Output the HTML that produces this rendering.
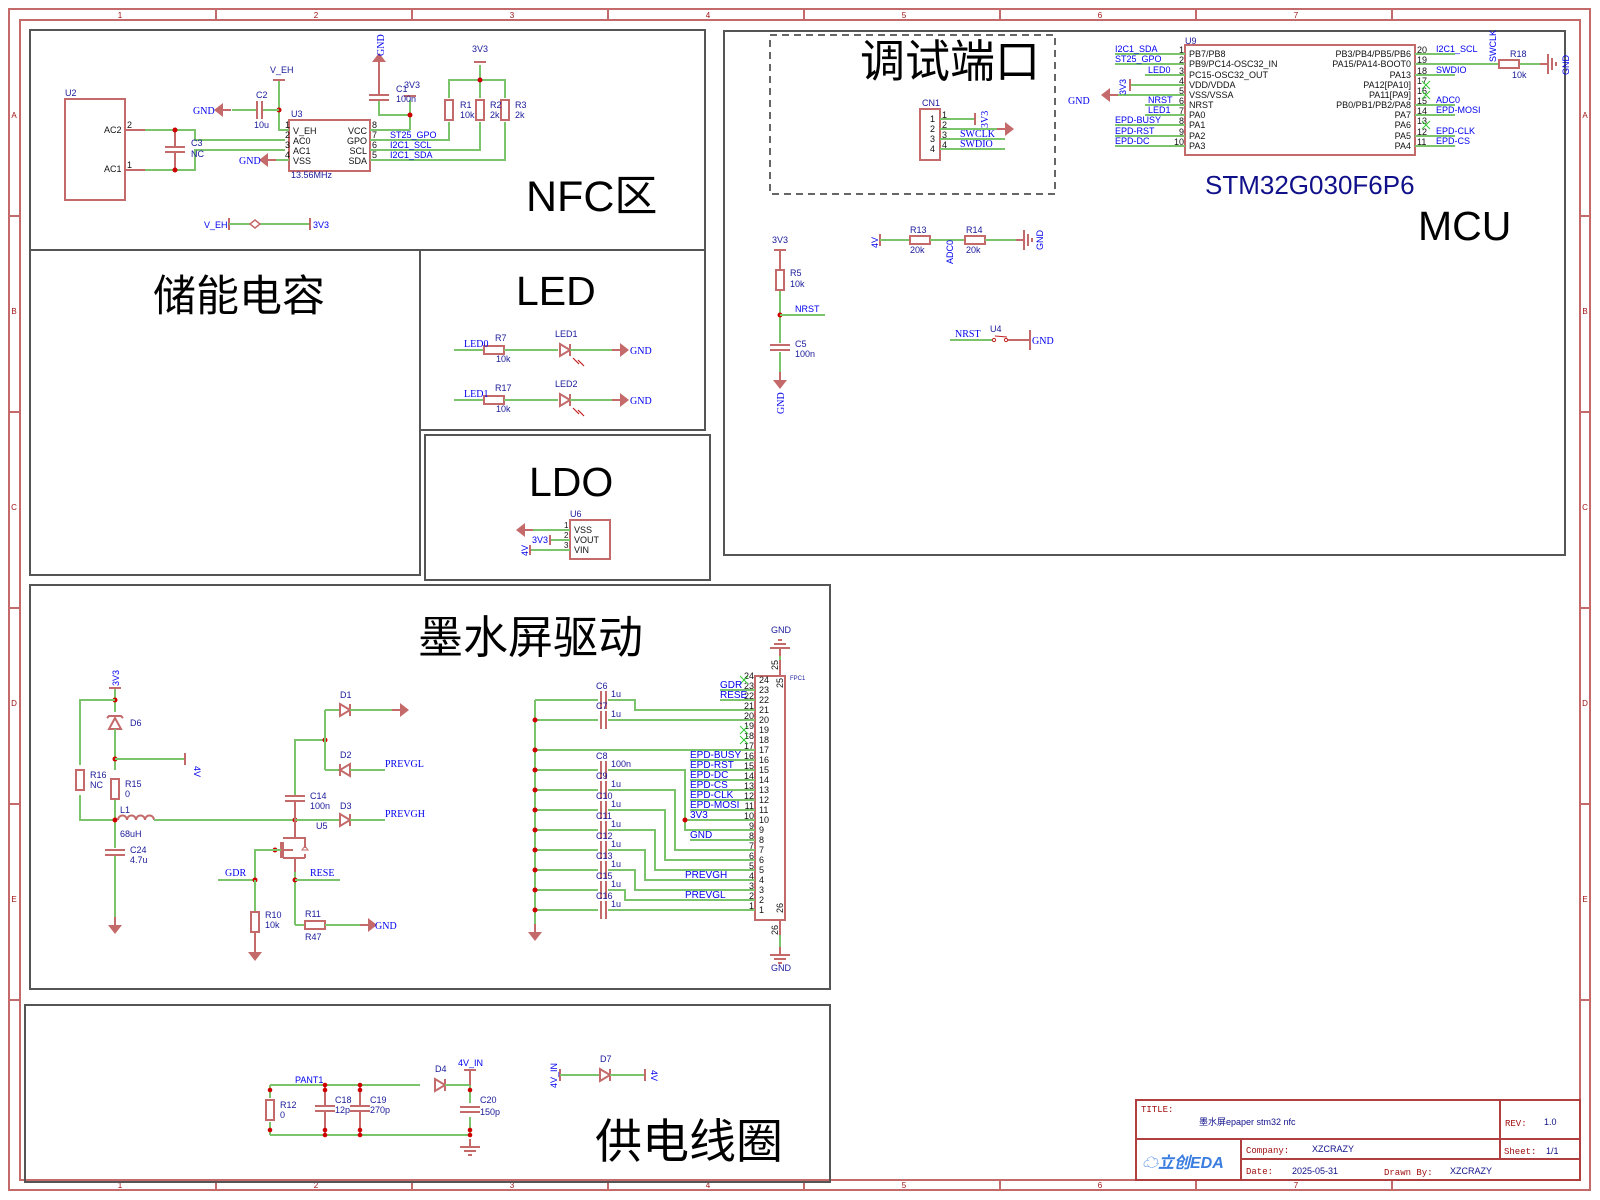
<!DOCTYPE html>
<html><head><meta charset="utf-8"><style>
html,body{margin:0;padding:0;background:#fff}
svg{display:block}
text{font-family:"Liberation Sans","Noto Sans CJK SC",sans-serif}
.c{stroke:#c46a6a;fill:none;stroke-width:2}
.cf{fill:#c46a6a;stroke:none}
.w{stroke:#7cc46c;fill:none;stroke-width:2}
.p{stroke:#555;fill:none;stroke-width:2}
.t{font-size:9px;fill:#1a1a9a}
.k{font-size:9px;fill:#111}
.n{font-size:10px;fill:#0000ee;font-family:"Liberation Serif",serif}
.ns{font-size:9px;fill:#0000ee}
.f{font-size:8px;fill:#a01010;text-anchor:middle}
.ti{fill:#000}
.d{fill:#d00000}
</style></head><body>
<svg width="1600" height="1200" viewBox="0 0 1600 1200" xmlns="http://www.w3.org/2000/svg">
<defs>
<g id="gr"><line x1="-8" y1="0" x2="0" y2="0" class="c"/><polygon points="0,-7 9,0 0,7" class="cf"/></g>
<g id="gl"><line x1="0" y1="0" x2="8" y2="0" class="c"/><polygon points="0,-7 -9,0 0,7" class="cf"/></g>
<g id="gd"><line x1="0" y1="-8" x2="0" y2="0" class="c"/><polygon points="-7,0 0,9 7,0" class="cf"/></g>
<g id="gu"><line x1="0" y1="0" x2="0" y2="8" class="c"/><polygon points="-7,0 0,-9 7,0" class="cf"/></g>
<g id="eg"><line x1="0" y1="-8" x2="0" y2="0" class="c"/><line x1="-10" y1="0" x2="10" y2="0" class="c"/><line x1="-6" y1="4" x2="6" y2="4" class="c"/><line x1="-2" y1="8" x2="2" y2="8" class="c"/></g>
<g id="egr"><line x1="-8" y1="0" x2="0" y2="0" class="c"/><line x1="0" y1="-10" x2="0" y2="10" class="c"/><line x1="4" y1="-6" x2="4" y2="6" class="c"/><line x1="8" y1="-2" x2="8" y2="2" class="c"/></g>
<g id="rv"><rect x="-4" y="-10" width="8" height="20" class="c"/></g>
<g id="rh"><rect x="-10" y="-4" width="20" height="8" class="c"/></g>
<g id="cv"><line x1="-10" y1="-2" x2="10" y2="-2" class="c"/><line x1="-10" y1="3" x2="10" y2="3" class="c"/></g>
<g id="ch"><line x1="-2" y1="-9" x2="-2" y2="9" class="c"/><line x1="3" y1="-9" x2="3" y2="9" class="c"/></g>
<g id="dr"><polygon points="-5,-6 5,0 -5,6" class="c"/><line x1="5" y1="-6" x2="5" y2="6" class="c"/></g>
<g id="dl"><polygon points="5,-6 -5,0 5,6" class="c"/><line x1="-5" y1="-6" x2="-5" y2="6" class="c"/></g>
<g id="x"><line x1="-4" y1="-4" x2="4" y2="4" stroke="#3c3" stroke-width="1"/><line x1="-4" y1="4" x2="4" y2="-4" stroke="#3c3" stroke-width="1"/></g>
</defs>

<rect x="9" y="9" width="1581" height="1181" fill="none" stroke="#c46a6a" stroke-width="2"/>
<rect x="20" y="20" width="1560" height="1160" fill="none" stroke="#c46a6a" stroke-width="2"/>
<g stroke="#c46a6a" stroke-width="2">
<line x1="216" y1="9" x2="216" y2="20"/><line x1="412" y1="9" x2="412" y2="20"/><line x1="608" y1="9" x2="608" y2="20"/><line x1="804" y1="9" x2="804" y2="20"/><line x1="1000" y1="9" x2="1000" y2="20"/><line x1="1196" y1="9" x2="1196" y2="20"/><line x1="1392" y1="9" x2="1392" y2="20"/>
<line x1="216" y1="1180" x2="216" y2="1190"/><line x1="412" y1="1180" x2="412" y2="1190"/><line x1="608" y1="1180" x2="608" y2="1190"/><line x1="804" y1="1180" x2="804" y2="1190"/><line x1="1000" y1="1180" x2="1000" y2="1190"/><line x1="1196" y1="1180" x2="1196" y2="1190"/><line x1="1392" y1="1180" x2="1392" y2="1190"/>
<line x1="9" y1="216" x2="20" y2="216"/><line x1="9" y1="412" x2="20" y2="412"/><line x1="9" y1="608" x2="20" y2="608"/><line x1="9" y1="804" x2="20" y2="804"/><line x1="9" y1="1000" x2="20" y2="1000"/>
<line x1="1580" y1="216" x2="1590" y2="216"/><line x1="1580" y1="412" x2="1590" y2="412"/><line x1="1580" y1="608" x2="1590" y2="608"/><line x1="1580" y1="804" x2="1590" y2="804"/><line x1="1580" y1="1000" x2="1590" y2="1000"/>
</g>
<g class="f" style="font-family:'Liberation Serif',serif">
<text x="120" y="18" class="f">1</text><text x="316" y="18" class="f">2</text><text x="512" y="18" class="f">3</text><text x="708" y="18" class="f">4</text><text x="904" y="18" class="f">5</text><text x="1100" y="18" class="f">6</text><text x="1296" y="18" class="f">7</text>
<text x="120" y="1188" class="f">1</text><text x="316" y="1188" class="f">2</text><text x="512" y="1188" class="f">3</text><text x="708" y="1188" class="f">4</text><text x="904" y="1188" class="f">5</text><text x="1100" y="1188" class="f">6</text><text x="1296" y="1188" class="f">7</text>
<text x="14" y="118" class="f">A</text><text x="14" y="314" class="f">B</text><text x="14" y="510" class="f">C</text><text x="14" y="706" class="f">D</text><text x="14" y="902" class="f">E</text>
<text x="1585" y="118" class="f">A</text><text x="1585" y="314" class="f">B</text><text x="1585" y="510" class="f">C</text><text x="1585" y="706" class="f">D</text><text x="1585" y="902" class="f">E</text>
</g>

<rect x="30" y="30" width="675" height="220" class="p"/>
<rect x="30" y="250" width="390" height="325" class="p"/>
<rect x="420" y="250" width="285" height="180" class="p"/>
<rect x="425" y="435" width="285" height="145" class="p"/>
<rect x="724" y="31" width="841" height="524" class="p"/>
<rect x="30" y="585" width="800" height="404" class="p"/>
<rect x="25" y="1005" width="805" height="177" class="p"/>
<rect x="770" y="35" width="285" height="159" fill="none" stroke="#666" stroke-width="2" stroke-dasharray="7,5"/>

<text x="526" y="211" font-size="43" class="ti">NFC区</text>
<text x="153" y="311" font-size="43" class="ti">储能电容</text>
<text x="516" y="305" font-size="41" class="ti">LED</text>
<text x="529" y="496" font-size="41" class="ti">LDO</text>
<text x="860" y="77" font-size="45" class="ti">调试端口</text>
<text x="1418" y="240" font-size="41" class="ti">MCU</text>
<text x="1205" y="194" font-size="26" fill="#10108a">STM32G030F6P6</text>
<text x="418" y="653" font-size="45" class="ti">墨水屏驱动</text>
<text x="595" y="1158" font-size="47" class="ti">供电线圈</text>

<g stroke="#b04040" stroke-width="2" fill="none">
<rect x="1136" y="1100" width="444" height="80"/>
<line x1="1136" y1="1139" x2="1580" y2="1139"/><line x1="1241" y1="1159" x2="1580" y2="1159"/>
<line x1="1500" y1="1100" x2="1500" y2="1159"/><line x1="1241" y1="1139" x2="1241" y2="1180"/>
</g>
<g font-size="9" fill="#a01010">
<text x="1141" y="1112" style="font-family:'Liberation Mono',monospace">TITLE:</text>
<text x="1505" y="1126" style="font-family:'Liberation Mono',monospace">REV:</text>
<text x="1246" y="1153" style="font-family:'Liberation Mono',monospace">Company:</text>
<text x="1504" y="1154" style="font-family:'Liberation Mono',monospace">Sheet:</text>
<text x="1246" y="1174" style="font-family:'Liberation Mono',monospace">Date:</text>
<text x="1384" y="1175" style="font-family:'Liberation Mono',monospace">Drawn By:</text>
</g>
<g font-size="9" fill="#10108a">
<text x="1199" y="1125">墨水屏epaper stm32 nfc</text>
<text x="1544" y="1125">1.0</text><text x="1312" y="1152">XZCRAZY</text><text x="1546" y="1154">1/1</text>
<text x="1292" y="1174">2025-05-31</text><text x="1450" y="1174">XZCRAZY</text>
</g>
<text x="1142" y="1168" font-size="16" font-weight="bold" font-style="italic" fill="#3a7de0">☁立创EDA</text>

<!-- NFC -->
<rect x="65" y="99" width="60" height="101" class="c"/>
<text x="65" y="96" class="t">U2</text>
<text x="104" y="133" class="k">AC2</text><text x="104" y="172" class="k">AC1</text>
<text x="127" y="128" class="k" font-size="8">2</text><text x="127" y="168" class="k" font-size="8">1</text>
<line x1="125" y1="130" x2="145" y2="130" class="c"/><line x1="125" y1="170" x2="145" y2="170" class="c"/>
<polyline points="145,130 195,130 195,140 285,140" class="w"/>
<polyline points="145,170 195,170 195,150 285,150" class="w"/>
<line x1="175" y1="130" x2="175" y2="147" class="c"/><line x1="175" y1="153" x2="175" y2="170" class="c"/>
<use href="#cv" x="175" y="149"/>
<circle cx="175" cy="130" r="2.5" class="d"/><circle cx="175" cy="170" r="2.5" class="d"/>
<text x="191" y="146" class="t">C3</text><text x="191" y="157" class="t">NC</text>
<rect x="289" y="120" width="81" height="51" class="c"/>
<text x="291" y="117" class="t">U3</text><text x="291" y="178" class="t">13.56MHz</text>
<g class="k"><text x="293" y="134">V_EH</text><text x="293" y="144">AC0</text><text x="293" y="154">AC1</text><text x="293" y="164">VSS</text>
<text x="367" y="134" text-anchor="end">VCC</text><text x="367" y="144" text-anchor="end">GPO</text><text x="367" y="154" text-anchor="end">SCL</text><text x="367" y="164" text-anchor="end">SDA</text></g>
<g class="k" font-size="8"><text x="285" y="128">1</text><text x="285" y="138">2</text><text x="285" y="148">3</text><text x="285" y="158">4</text><text x="372" y="128">8</text><text x="372" y="138">7</text><text x="372" y="148">6</text><text x="372" y="158">5</text></g>
<polyline points="279,80 279,130 289,130" class="w"/>
<line x1="273" y1="80" x2="285" y2="80" class="c"/>
<text x="270" y="73" class="t">V_EH</text>
<circle cx="279" cy="110" r="2.5" class="d"/>
<line x1="232" y1="110" x2="257" y2="110" class="w"/><line x1="263" y1="110" x2="279" y2="110" class="w"/>
<use href="#ch" x="259" y="110"/>
<use href="#gl" x="223" y="110"/>
<text x="193" y="114" class="n">GND</text>
<text x="256" y="98" class="t">C2</text><text x="254" y="128" class="t">10u</text>
<line x1="268" y1="160" x2="289" y2="160" class="w"/><use href="#gl" x="268" y="160"/>
<text x="239" y="164" class="n">GND</text>
<line x1="370" y1="130" x2="410" y2="130" class="w"/><line x1="410" y1="130" x2="410" y2="100" class="w"/>
<line x1="404" y1="96" x2="416" y2="96" class="c"/><text x="404" y="88" class="t">3V3</text>
<polyline points="379,68 379,95" class="c"/><use href="#cv" x="379" y="97"/>
<polyline points="379,101 379,115 410,115" class="w"/>
<circle cx="410" cy="115" r="2.5" class="d"/>
<use href="#gu" x="379" y="62"/>
<text transform="translate(384,56) rotate(-90)" class="n">GND</text>
<text x="396" y="92" class="t">C1</text><text x="396" y="102" class="t">100n</text>
<polyline points="370,140 449,140 449,122" class="w"/>
<polyline points="370,150 480,150 480,122" class="w"/>
<polyline points="370,160 505,160 505,122" class="w"/>
<polyline points="449,98 449,80 505,80 505,98" class="w"/><line x1="480" y1="65" x2="480" y2="98" class="w"/>
<line x1="474" y1="62" x2="486" y2="62" class="c"/>
<text x="472" y="52" class="t">3V3</text>
<circle cx="480" cy="80" r="2.5" class="d"/>
<use href="#rv" x="449" y="110"/><use href="#rv" x="480" y="110"/><use href="#rv" x="505" y="110"/>
<text x="460" y="108" class="t">R1</text><text x="460" y="118" class="t">10k</text>
<text x="490" y="108" class="t">R2</text><text x="490" y="118" class="t">2k</text>
<text x="515" y="108" class="t">R3</text><text x="515" y="118" class="t">2k</text>
<g class="ns"><text x="390" y="138">ST25_GPO</text><text x="390" y="148">I2C1_SCL</text><text x="390" y="158">I2C1_SDA</text></g>
<text x="204" y="228" class="ns">V_EH</text>
<line x1="229" y1="218" x2="229" y2="230" class="c"/><line x1="229" y1="224" x2="310" y2="224" class="w"/>
<polygon points="250,224 255,220 260,224 255,228" fill="#fff" stroke="#c46a6a" stroke-width="1.5"/>
<line x1="310" y1="218" x2="310" y2="230" class="c"/><text x="313" y="228" class="ns">3V3</text>

<!-- LED -->
<g>
<line x1="454" y1="350" x2="484" y2="350" class="w"/><use href="#rh" x="494" y="350"/>
<line x1="504" y1="350" x2="558" y2="350" class="w"/><use href="#dr" x="565" y="350"/>
<line x1="570" y1="350" x2="619" y2="350" class="w"/><use href="#gr" x="620" y="350"/>
<text x="464" y="347" class="n" font-size="9">LED0</text><text x="495" y="341" class="t">R7</text><text x="496" y="362" class="t">10k</text>
<text x="555" y="337" class="t">LED1</text><text x="630" y="354" class="n">GND</text>
<path d="M573,358 l6,6 M578,360 l6,6" stroke="#c02020" stroke-width="1.2"/>
<line x1="454" y1="400" x2="484" y2="400" class="w"/><use href="#rh" x="494" y="400"/>
<line x1="504" y1="400" x2="558" y2="400" class="w"/><use href="#dr" x="565" y="400"/>
<line x1="570" y1="400" x2="619" y2="400" class="w"/><use href="#gr" x="620" y="400"/>
<text x="464" y="397" class="n" font-size="9">LED1</text><text x="495" y="391" class="t">R17</text><text x="496" y="412" class="t">10k</text>
<text x="555" y="387" class="t">LED2</text><text x="630" y="404" class="n">GND</text>
<path d="M573,408 l6,6 M578,410 l6,6" stroke="#c02020" stroke-width="1.2"/>
</g>

<!-- LDO -->
<rect x="570" y="520" width="40" height="39" class="c"/>
<text x="570" y="517" class="t">U6</text>
<g class="k"><text x="574" y="533">VSS</text><text x="574" y="543">VOUT</text><text x="574" y="553">VIN</text>
<text x="564" y="528" font-size="8">1</text><text x="564" y="538" font-size="8">2</text><text x="564" y="548" font-size="8">3</text></g>
<line x1="526" y1="530" x2="570" y2="530" class="w"/><use href="#gl" x="525" y="530"/>
<line x1="550" y1="540" x2="570" y2="540" class="w"/><line x1="550" y1="535" x2="550" y2="545" class="c"/>
<text x="532" y="543" class="ns">3V3</text>
<line x1="530" y1="550" x2="570" y2="550" class="w"/><line x1="530" y1="545" x2="530" y2="555" class="c"/>
<text transform="translate(528,556) rotate(-90)" class="ns">4V</text>

<!-- Debug -->
<rect x="920" y="109" width="20" height="51" class="c"/>
<text x="922" y="106" class="t">CN1</text>
<g class="k" font-size="8"><text x="930" y="122">1</text><text x="930" y="132">2</text><text x="930" y="142">3</text><text x="930" y="152">4</text>
<text x="942" y="118">1</text><text x="942" y="128">2</text><text x="942" y="138">3</text><text x="942" y="148">4</text></g>
<line x1="940" y1="119" x2="975" y2="119" class="w"/><line x1="975" y1="113" x2="975" y2="125" class="c"/>
<text transform="translate(988,128) rotate(-90)" class="n" font-size="9">3V3</text>
<line x1="940" y1="129" x2="1005" y2="129" class="w"/><use href="#gr" x="1005" y="129"/>
<line x1="940" y1="139" x2="1005" y2="139" class="w"/><line x1="940" y1="149" x2="1005" y2="149" class="w"/>
<text x="960" y="137" class="n" font-size="9">SWCLK</text><text x="960" y="147" class="n" font-size="9">SWDIO</text>

<!-- MCU -->
<rect x="1185" y="45" width="230" height="110" class="c"/>
<text x="1185" y="44" class="t" font-size="7">U9</text>
<g class="k">
<text x="1189" y="57">PB7/PB8</text><text x="1189" y="67">PB9/PC14-OSC32_IN</text><text x="1189" y="78">PC15-OSC32_OUT</text><text x="1189" y="88">VDD/VDDA</text><text x="1189" y="98">VSS/VSSA</text><text x="1189" y="108">NRST</text><text x="1189" y="118">PA0</text><text x="1189" y="128">PA1</text><text x="1189" y="139">PA2</text><text x="1189" y="149">PA3</text>
<text x="1411" y="57" text-anchor="end">PB3/PB4/PB5/PB6</text><text x="1411" y="67" text-anchor="end">PA15/PA14-BOOT0</text><text x="1411" y="78" text-anchor="end">PA13</text><text x="1411" y="88" text-anchor="end">PA12[PA10]</text><text x="1411" y="98" text-anchor="end">PA11[PA9]</text><text x="1411" y="108" text-anchor="end">PB0/PB1/PB2/PA8</text><text x="1411" y="118" text-anchor="end">PA7</text><text x="1411" y="128" text-anchor="end">PA6</text><text x="1411" y="139" text-anchor="end">PA5</text><text x="1411" y="149" text-anchor="end">PA4</text>
</g>
<g class="k" font-size="8" text-anchor="end">
<text x="1184" y="53">1</text><text x="1184" y="63">2</text><text x="1184" y="74">3</text><text x="1184" y="84">4</text><text x="1184" y="94">5</text><text x="1184" y="104">6</text><text x="1184" y="114">7</text><text x="1184" y="124">8</text><text x="1184" y="135">9</text><text x="1184" y="145">10</text>
</g>
<g class="k" font-size="8">
<text x="1417" y="53">20</text><text x="1417" y="63">19</text><text x="1417" y="74">18</text><text x="1417" y="84">17</text><text x="1417" y="94">16</text><text x="1417" y="104">15</text><text x="1417" y="114">14</text><text x="1417" y="124">13</text><text x="1417" y="135">12</text><text x="1417" y="145">11</text>
</g>
<g class="w">
<line x1="1115" y1="54" x2="1185" y2="54"/><line x1="1115" y1="64" x2="1185" y2="64"/><line x1="1145" y1="75" x2="1185" y2="75"/><line x1="1130" y1="85" x2="1185" y2="85"/><line x1="1118" y1="95" x2="1185" y2="95"/><line x1="1145" y1="105" x2="1185" y2="105"/><line x1="1145" y1="115" x2="1185" y2="115"/><line x1="1115" y1="125" x2="1185" y2="125"/><line x1="1115" y1="136" x2="1185" y2="136"/><line x1="1115" y1="146" x2="1185" y2="146"/>
<line x1="1415" y1="54" x2="1455" y2="54"/><line x1="1415" y1="64" x2="1498" y2="64"/><line x1="1415" y1="75" x2="1455" y2="75"/><line x1="1415" y1="105" x2="1455" y2="105"/><line x1="1415" y1="115" x2="1455" y2="115"/><line x1="1415" y1="136" x2="1455" y2="136"/><line x1="1415" y1="146" x2="1455" y2="146"/>
<line x1="1520" y1="64" x2="1540" y2="64"/>
</g>
<use href="#x" x="1426" y="85"/><use href="#x" x="1426" y="95"/><use href="#x" x="1426" y="125"/>
<line x1="1130" y1="79" x2="1130" y2="91" class="c"/>
<text transform="translate(1126,95) rotate(-90)" class="ns">3V3</text>
<use href="#gl" x="1110" y="95"/><text x="1068" y="104" class="n">GND</text>
<g class="ns">
<text x="1115" y="52">I2C1_SDA</text><text x="1115" y="62">ST25_GPO</text><text x="1148" y="73">LED0</text><text x="1148" y="103">NRST</text><text x="1148" y="113">LED1</text><text x="1115" y="123">EPD-BUSY</text><text x="1115" y="134">EPD-RST</text><text x="1115" y="144">EPD-DC</text>
<text x="1436" y="52">I2C1_SCL</text><text x="1436" y="73">SWDIO</text><text x="1436" y="103">ADC0</text><text x="1436" y="113">EPD-MOSI</text><text x="1436" y="134">EPD-CLK</text><text x="1436" y="144">EPD-CS</text>
</g>
<text transform="translate(1496,62) rotate(-90)" class="ns">SWCLK</text>
<use href="#rh" x="1509" y="64"/>
<text x="1510" y="57" class="t">R18</text><text x="1512" y="78" class="t">10k</text>
<use href="#egr" x="1548" y="64"/>
<text transform="translate(1569,75) rotate(-90)" class="ns">GND</text>

<text x="772" y="243" class="t">3V3</text>
<line x1="774" y1="250" x2="786" y2="250" class="c"/>
<line x1="780" y1="250" x2="780" y2="269" class="c"/><use href="#rv" x="780" y="280"/>
<line x1="780" y1="291" x2="780" y2="343" class="w"/>
<use href="#cv" x="780" y="347"/>
<line x1="780" y1="352" x2="780" y2="378" class="w"/>
<use href="#gd" x="780" y="380"/>
<circle cx="780" cy="315" r="2.5" class="d"/>
<line x1="780" y1="315" x2="825" y2="315" class="w"/>
<text x="795" y="312" class="ns">NRST</text>
<text x="790" y="276" class="t">R5</text><text x="790" y="287" class="t">10k</text>
<text x="795" y="347" class="t">C5</text><text x="795" y="357" class="t">100n</text>
<text transform="translate(784,414) rotate(-90)" class="n" font-size="10">GND</text>
<line x1="880" y1="234" x2="880" y2="246" class="c"/>
<text transform="translate(878,248) rotate(-90)" class="ns">4V</text>
<line x1="880" y1="240" x2="910" y2="240" class="w"/><use href="#rh" x="920" y="240"/>
<line x1="930" y1="240" x2="965" y2="240" class="w"/><use href="#rh" x="975" y="240"/>
<line x1="985" y1="240" x2="1022" y2="240" class="w"/><use href="#egr" x="1024" y="240"/>
<text x="910" y="233" class="t">R13</text><text x="910" y="253" class="t">20k</text>
<text x="966" y="233" class="t">R14</text><text x="966" y="253" class="t">20k</text>
<text transform="translate(953,264) rotate(-90)" class="ns">ADC0</text>
<text transform="translate(1043,250) rotate(-90)" class="ns">GND</text>
<line x1="950" y1="340" x2="993" y2="340" class="w"/>
<circle cx="994" cy="340" r="1.6" fill="none" stroke="#c02020"/><circle cx="1006" cy="340" r="1.6" fill="none" stroke="#c02020"/>
<line x1="995" y1="336" x2="1007" y2="337" stroke="#c02020" stroke-width="1"/>
<line x1="1008" y1="340" x2="1030" y2="340" class="c"/><line x1="1030" y1="330" x2="1030" y2="350" class="c" stroke-width="3"/>
<text x="955" y="337" class="n" font-size="9">NRST</text><text x="990" y="332" class="t">U4</text>
<text x="1032" y="344" class="n">GND</text>

<!-- E-ink -->
<line x1="115" y1="688" x2="115" y2="712" class="w"/>
<line x1="109" y1="688" x2="121" y2="688" class="c"/>
<text transform="translate(119,686) rotate(-90)" class="ns">3V3</text>
<circle cx="115" cy="700" r="2.5" class="d"/>
<polyline points="115,700 80,700 80,765" class="w"/><use href="#rv" x="80" y="780"/>
<polyline points="80,795 80,820 115,820" class="w"/>
<polygon points="115,718 109,729 121,729" class="c"/><path d="M107,718 l2,-2 h12 l2,2" class="c"/>
<line x1="115" y1="729" x2="115" y2="770" class="w"/>
<circle cx="115" cy="759" r="2.5" class="d"/>
<line x1="115" y1="759" x2="185" y2="759" class="w"/><line x1="185" y1="753" x2="185" y2="765" class="c"/>
<text transform="translate(194,766) rotate(90)" class="ns">4V</text>
<use href="#rv" x="115" y="789"/><line x1="115" y1="800" x2="115" y2="848" class="w"/>
<circle cx="115" cy="820" r="2.5" class="d"/>
<text x="130" y="726" class="t">D6</text>
<text x="90" y="778" class="t">R16</text><text x="90" y="788" class="t">NC</text>
<text x="125" y="787" class="t">R15</text><text x="125" y="797" class="t">0</text>
<path d="M118,820 a4.5,4.5 0 0 1 9,0 a4.5,4.5 0 0 1 9,0 a4.5,4.5 0 0 1 9,0 a4.5,4.5 0 0 1 9,0" class="c"/>
<line x1="154" y1="820" x2="295" y2="820" class="w"/>
<text x="120" y="813" class="t">L1</text><text x="120" y="837" class="t">68uH</text>
<use href="#cv" x="115" y="852"/><line x1="115" y1="856" x2="115" y2="922" class="w"/>
<use href="#gd" x="115" y="925"/>
<text x="130" y="853" class="t">C24</text><text x="130" y="863" class="t">4.7u</text>
<circle cx="295" cy="820" r="2.5" class="d"/>
<polyline points="295,820 295,802" class="c"/><use href="#cv" x="295" y="798"/>
<polyline points="295,795 295,740 325,740" class="w"/>
<circle cx="325" cy="740" r="2.5" class="d"/>
<polyline points="325,710 325,770" class="w"/>
<line x1="325" y1="710" x2="340" y2="710" class="w"/><use href="#dr" x="345" y="710"/><line x1="350" y1="710" x2="395" y2="710" class="w"/><use href="#gr" x="400" y="710"/>
<line x1="325" y1="770" x2="340" y2="770" class="w"/><use href="#dl" x="345" y="770"/><line x1="350" y1="770" x2="385" y2="770" class="w"/>
<line x1="295" y1="820" x2="340" y2="820" class="w"/><use href="#dr" x="345" y="820"/><line x1="350" y1="820" x2="385" y2="820" class="w"/>
<text x="340" y="698" class="t">D1</text><text x="340" y="758" class="t">D2</text><text x="340" y="809" class="t">D3</text>
<text x="310" y="799" class="t">C14</text><text x="310" y="809" class="t">100n</text><text x="316" y="829" class="t">U5</text>
<text x="385" y="767" class="n" font-size="9">PREVGL</text><text x="385" y="817" class="n" font-size="9">PREVGH</text>
<line x1="295" y1="820" x2="295" y2="838" class="c"/>
<path d="M295,838 h-12 M283,842 v16 M281,842 v16 M283,850 h10 M283,858 h12 v14" class="c" stroke-width="1.5"/>
<path d="M295,838 h10 v10 M305,858 v-4 M295,858 h10" class="c" stroke-width="1.2"/>
<polygon points="302,850 308,850 305,846" fill="none" stroke="#c46a6a"/>
<circle cx="275" cy="850" r="2.5" class="d"/>
<polyline points="255,880 255,850 281,850" class="w"/>
<line x1="295" y1="872" x2="295" y2="925" class="w"/>
<circle cx="295" cy="880" r="2.5" class="d"/>
<line x1="295" y1="880" x2="340" y2="880" class="w"/>
<text x="310" y="876" class="n" font-size="9">RESE</text>
<line x1="218" y1="880" x2="255" y2="880" class="w"/><circle cx="255" cy="880" r="2.5" class="d"/>
<text x="225" y="876" class="n" font-size="9">GDR</text>
<line x1="255" y1="880" x2="255" y2="912" class="w"/><use href="#rv" x="255" y="922"/>
<line x1="255" y1="932" x2="255" y2="950" class="c"/><use href="#gd" x="255" y="952"/>
<text x="265" y="918" class="t">R10</text><text x="265" y="928" class="t">10k</text>
<line x1="295" y1="925" x2="305" y2="925" class="w"/><use href="#rh" x="315" y="925"/>
<line x1="325" y1="925" x2="365" y2="925" class="w"/><use href="#gr" x="368" y="925"/>
<text x="305" y="917" class="t">R11</text><text x="305" y="940" class="t">R47</text><text x="375" y="929" class="n">GND</text>

<rect x="755" y="676" width="30" height="244" class="c"/>
<text x="790" y="680" font-size="6" fill="#2020a0">FPC1</text>
<line x1="780" y1="676" x2="780" y2="660" class="c"/><line x1="780" y1="660" x2="780" y2="650" class="w"/>
<g transform="translate(780,648) rotate(180)"><use href="#eg"/></g>
<text x="771" y="633" class="t">GND</text>
<line x1="780" y1="920" x2="780" y2="935" class="c"/><line x1="780" y1="935" x2="780" y2="948" class="w"/>
<use href="#eg" x="780" y="955"/>
<text x="771" y="971" class="t">GND</text>
<text transform="translate(783,688) rotate(-90)" class="k" font-size="9">25</text>
<text transform="translate(783,913) rotate(-90)" class="k" font-size="9">26</text>
<text transform="translate(778,670) rotate(-90)" class="k" font-size="8">25</text>
<text transform="translate(778,935) rotate(-90)" class="k" font-size="8">26</text>
<g class="k" font-size="9">
<text x="759" y="683">24</text><text x="759" y="693">23</text><text x="759" y="703">22</text><text x="759" y="713">21</text><text x="759" y="723">20</text><text x="759" y="733">19</text><text x="759" y="743">18</text><text x="759" y="753">17</text><text x="759" y="763">16</text><text x="759" y="773">15</text><text x="759" y="783">14</text><text x="759" y="793">13</text><text x="759" y="803">12</text><text x="759" y="813">11</text><text x="759" y="823">10</text><text x="759" y="833">9</text><text x="759" y="843">8</text><text x="759" y="853">7</text><text x="759" y="863">6</text><text x="759" y="873">5</text><text x="759" y="883">4</text><text x="759" y="893">3</text><text x="759" y="903">2</text><text x="759" y="913">1</text>
</g>
<g class="k" font-size="8" text-anchor="end">
<text x="754" y="679">24</text><text x="754" y="689">23</text><text x="754" y="699">22</text><text x="754" y="709">21</text><text x="754" y="719">20</text><text x="754" y="729">19</text><text x="754" y="739">18</text><text x="754" y="749">17</text><text x="754" y="759">16</text><text x="754" y="769">15</text><text x="754" y="779">14</text><text x="754" y="789">13</text><text x="754" y="799">12</text><text x="754" y="809">11</text><text x="754" y="819">10</text><text x="754" y="829">9</text><text x="754" y="839">8</text><text x="754" y="849">7</text><text x="754" y="859">6</text><text x="754" y="869">5</text><text x="754" y="879">4</text><text x="754" y="889">3</text><text x="754" y="899">2</text><text x="754" y="909">1</text>
</g>
<use href="#x" x="744" y="680"/><use href="#x" x="744" y="730"/><use href="#x" x="744" y="740"/>
<g class="w">
<line x1="720" y1="690" x2="755" y2="690"/><line x1="720" y1="700" x2="755" y2="700"/>
<line x1="690" y1="760" x2="755" y2="760"/><line x1="690" y1="770" x2="755" y2="770"/><line x1="690" y1="780" x2="755" y2="780"/><line x1="690" y1="790" x2="755" y2="790"/><line x1="690" y1="800" x2="755" y2="800"/><line x1="690" y1="810" x2="755" y2="810"/><line x1="685" y1="820" x2="755" y2="820"/><line x1="690" y1="840" x2="755" y2="840"/>
<line x1="535" y1="700" x2="535" y2="930"/>
<polyline points="535,700 598,700"/><polyline points="608,700 635,700 635,710 755,710"/>
<polyline points="535,720 598,720"/><polyline points="608,720 755,720"/>
<polyline points="535,750 755,750"/>
<polyline points="535,770 598,770"/><polyline points="608,770 685,770 685,830 755,830"/>
<polyline points="535,790 598,790"/><polyline points="608,790 675,790 675,850 755,850"/>
<polyline points="535,810 598,810"/><polyline points="608,810 665,810 665,860 755,860"/>
<polyline points="535,830 598,830"/><polyline points="608,830 655,830 655,870 755,870"/>
<polyline points="535,850 598,850"/><polyline points="608,850 645,850 645,880 755,880"/>
<polyline points="535,870 598,870"/><polyline points="608,870 635,870 635,890 755,890"/>
<polyline points="535,890 598,890"/><polyline points="608,890 625,890 625,900 755,900"/>
<polyline points="535,910 598,910"/><polyline points="608,910 755,910"/>
</g>
<use href="#ch" x="603" y="700"/><use href="#ch" x="603" y="720"/><use href="#ch" x="603" y="770"/><use href="#ch" x="603" y="790"/><use href="#ch" x="603" y="810"/><use href="#ch" x="603" y="830"/><use href="#ch" x="603" y="850"/><use href="#ch" x="603" y="870"/><use href="#ch" x="603" y="890"/><use href="#ch" x="603" y="910"/>
<g class="d"><circle cx="535" cy="720" r="2.5"/><circle cx="535" cy="750" r="2.5"/><circle cx="535" cy="770" r="2.5"/><circle cx="535" cy="790" r="2.5"/><circle cx="535" cy="810" r="2.5"/><circle cx="535" cy="830" r="2.5"/><circle cx="535" cy="850" r="2.5"/><circle cx="535" cy="870" r="2.5"/><circle cx="535" cy="890" r="2.5"/><circle cx="535" cy="910" r="2.5"/><circle cx="685" cy="820" r="2.5"/></g>
<use href="#gd" x="535" y="932"/>
<g class="t">
<text x="596" y="689">C6</text><text x="611" y="697">1u</text>
<text x="596" y="709">C7</text><text x="611" y="717">1u</text>
<text x="596" y="759">C8</text><text x="611" y="767">100n</text>
<text x="596" y="779">C9</text><text x="611" y="787">1u</text>
<text x="596" y="799">C10</text><text x="611" y="807">1u</text>
<text x="596" y="819">C11</text><text x="611" y="827">1u</text>
<text x="596" y="839">C12</text><text x="611" y="847">1u</text>
<text x="596" y="859">C13</text><text x="611" y="867">1u</text>
<text x="596" y="879">C15</text><text x="611" y="887">1u</text>
<text x="596" y="899">C16</text><text x="611" y="907">1u</text>
</g>
<g class="n" font-size="9">
<text x="720" y="688">GDR</text><text x="720" y="698">RESE</text>
<text x="690" y="758">EPD-BUSY</text><text x="690" y="768">EPD-RST</text><text x="690" y="778">EPD-DC</text><text x="690" y="788">EPD-CS</text><text x="690" y="798">EPD-CLK</text><text x="690" y="808">EPD-MOSI</text><text x="690" y="818">3V3</text><text x="690" y="838">GND</text>
<text x="685" y="878">PREVGH</text><text x="685" y="898">PREVGL</text>
</g>

<!-- Power coil -->
<polyline points="270,1085 420,1085" class="w"/><use href="#dr" x="440" y="1085"/>
<polyline points="445,1085 470,1085 470,1103" class="w"/>
<polyline points="270,1135 470,1135 470,1117" class="w"/>
<line x1="270" y1="1085" x2="270" y2="1098" class="w"/><use href="#rv" x="270" y="1110"/><line x1="270" y1="1122" x2="270" y2="1135" class="w"/>
<line x1="325" y1="1085" x2="325" y2="1106" class="c"/><use href="#cv" x="325" y="1108"/><line x1="325" y1="1112" x2="325" y2="1135" class="c"/>
<line x1="360" y1="1085" x2="360" y2="1106" class="c"/><use href="#cv" x="360" y="1108"/><line x1="360" y1="1112" x2="360" y2="1135" class="c"/>
<use href="#cv" x="470" y="1109"/>
<g class="d"><circle cx="270" cy="1090" r="2.3"/><circle cx="270" cy="1130" r="2.3"/><circle cx="325" cy="1085" r="2.3"/><circle cx="325" cy="1090" r="2.3"/><circle cx="325" cy="1130" r="2.3"/><circle cx="325" cy="1135" r="2.3"/><circle cx="360" cy="1085" r="2.3"/><circle cx="360" cy="1090" r="2.3"/><circle cx="360" cy="1130" r="2.3"/><circle cx="360" cy="1135" r="2.3"/><circle cx="470" cy="1090" r="2.3"/><circle cx="470" cy="1130" r="2.3"/><circle cx="470" cy="1135" r="2.3"/></g>
<line x1="464" y1="1070" x2="476" y2="1070" class="c"/><line x1="470" y1="1070" x2="470" y2="1085" class="c"/>
<use href="#eg" x="470" y="1147"/>
<g class="t"><text x="295" y="1083" fill="#0000ee">PANT1</text><text x="458" y="1066" fill="#0000ee">4V_IN</text><text x="435" y="1072">D4</text>
<text x="280" y="1108">R12</text><text x="280" y="1118">0</text><text x="335" y="1103">C18</text><text x="335" y="1113">12p</text>
<text x="370" y="1103">C19</text><text x="370" y="1113">270p</text><text x="480" y="1103">C20</text><text x="480" y="1115">150p</text></g>
<line x1="560" y1="1069" x2="560" y2="1081" class="c"/><line x1="560" y1="1075" x2="600" y2="1075" class="w"/>
<use href="#dr" x="605" y="1075"/><line x1="610" y1="1075" x2="645" y2="1075" class="w"/>
<line x1="645" y1="1069" x2="645" y2="1081" class="c"/>
<text transform="translate(557,1088) rotate(-90)" class="ns">4V_IN</text>
<text transform="translate(651,1070) rotate(90)" class="ns">4V</text>
<text x="600" y="1062" class="t">D7</text>
</svg>
</body></html>
